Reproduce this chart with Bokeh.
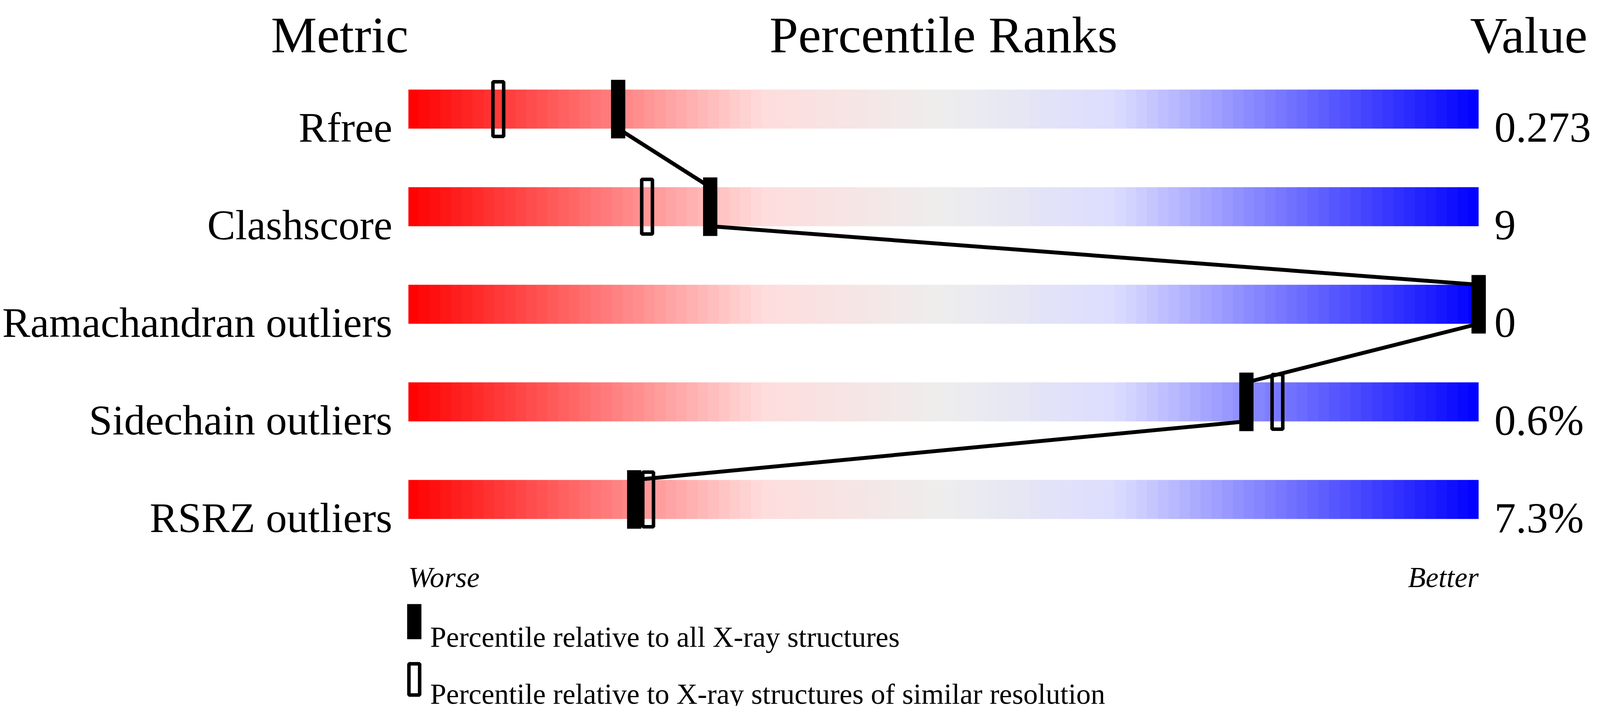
import numpy as np
from bokeh.core.properties import value
from bokeh.embed import file_html
from bokeh.models import Range1d
from bokeh.plotting import figure
from bokeh.resources import INLINE

# ---------------- data ----------------
metrics = ["Rfree", "Clashscore", "Ramachandran outliers",
           "Sidechain outliers", "RSRZ outliers"]
metric_values = ["0.273", "9", "0", "0.6%", "7.3%"]
pct_all = [19.6, 28.2, 100.0, 78.3, 21.1]       # filled markers
pct_similar = [8.4, 22.3, 100.0, 81.2, 22.4]    # open markers
legend_labels = ["Percentile relative to all X-ray structures",
                 "Percentile relative to X-ray structures of similar resolution"]

# colour ramp of the slider (percentile -> rgb)
ramp_pos = [0, 33, 50, 66, 100]
ramp_r = [255, 255, 238, 221, 0]
ramp_g = [0, 221, 238, 221, 0]
ramp_b = [0, 221, 238, 255, 255]

# ---------------- layout ----------------
# positions below are given on a 4485px wide page; the browser viewport is
# 4096px wide, so the x range is stretched over a narrower figure
K = 4096 / 4485
W, H = 4080, 1808
X0, PX = 1153, 30.0        # page x of percentile 0, px per percentile
FONT = value("Liberation Serif")


def sx(px):
    """page pixel x -> data x (percentile)"""
    return (px - X0) / PX


def sy(py):
    """page pixel y -> data y"""
    return 1824 - py


row_c = [287 + 250 * i for i in range(len(metrics))]   # row centres (page px)

p = figure(width=W, height=H, output_backend="svg", toolbar_location=None,
           x_range=Range1d(sx(8 / K), sx((8 + W) / K)),
           y_range=Range1d(8, 8 + H),
           min_border=0, outline_line_color=None, tools="")
p.xaxis.visible = False
p.yaxis.visible = False
p.xgrid.visible = False
p.ygrid.visible = False

########################## BARS ##########################
n = 3000
steps = np.floor(np.linspace(0, 100, n, endpoint=False)) + 0.5
img = np.zeros((1, n), dtype=np.uint32)
view = img.view(dtype=np.uint8).reshape((1, n, 4))
view[0, :, 0] = np.interp(steps, ramp_pos, ramp_r).astype(np.uint8)
view[0, :, 1] = np.interp(steps, ramp_pos, ramp_g).astype(np.uint8)
view[0, :, 2] = np.interp(steps, ramp_pos, ramp_b).astype(np.uint8)
view[0, :, 3] = 255

p.image_rgba(image=[img] * len(metrics), x=[0] * len(metrics),
             y=[sy(c + 50) for c in row_c], dw=[100] * len(metrics),
             dh=[100] * len(metrics))

######################## MARKERS ########################
p.segment(x0=pct_all[:-1], y0=[sy(c + 50) for c in row_c[:-1]],
          x1=pct_all[1:], y1=[sy(c - 50) for c in row_c[1:]],
          line_color="black", line_width=10)

p.rect(x=pct_similar, y=[sy(c) for c in row_c], width=1.0, height=140,
       fill_color=None, line_color="black", line_width=9)
p.rect(x=pct_all, y=[sy(c) for c in row_c], width=40 / PX, height=150,
       fill_color="black", line_color=None)

######################### TEXTS #########################
p.text(x=[sx(1153), 50], y=[sy(97)] * 2,
       text=["Metric", "Percentile Ranks"],
       text_align=["right", "center"], text_baseline="alphabetic",
       text_font=FONT, text_font_size=value("132px"), text_color="black")
p.text(x=[sx(4458)], y=[sy(98)], text=["Value"],
       text_align="right", text_baseline="alphabetic",
       text_font=FONT, text_font_size=value("132px"), text_color="black")

p.text(x=[sx(1108)] * len(metrics), y=[sy(c + 47) for c in row_c],
       text=metrics, text_align="right", text_baseline="alphabetic",
       text_font=FONT, text_font_size=value("108px"), text_color="black")

p.text(x=[sx(4197)] * len(metrics), y=[sy(c + 47) for c in row_c],
       text=metric_values, text_align="left", text_baseline="alphabetic",
       text_font=FONT, text_font_size=value("110px"), text_color="black")

p.text(x=[0, 100], y=[sy(1486)] * 2, text=["Worse", "Better"],
       text_align=["left", "right"], text_baseline="alphabetic",
       text_font=FONT, text_font_style="italic",
       text_font_size=value("74px"), text_color="black")

######################### LEGEND #########################
p.rect(x=[sx(1169.5)], y=[sy(1600)], width=40 / PX, height=90,
       fill_color="black", line_color=None)
p.rect(x=[sx(1169.5)], y=[sy(1748)], width=1.0, height=80,
       fill_color=None, line_color="black", line_width=9)
p.text(x=[sx(1214)] * 2, y=[sy(1639), sy(1785)], text=legend_labels,
       text_align="left", text_baseline="alphabetic",
       text_font=FONT, text_font_size=value("74px"), text_color="black")

open("out.html", "w").write(file_html(p, INLINE))
